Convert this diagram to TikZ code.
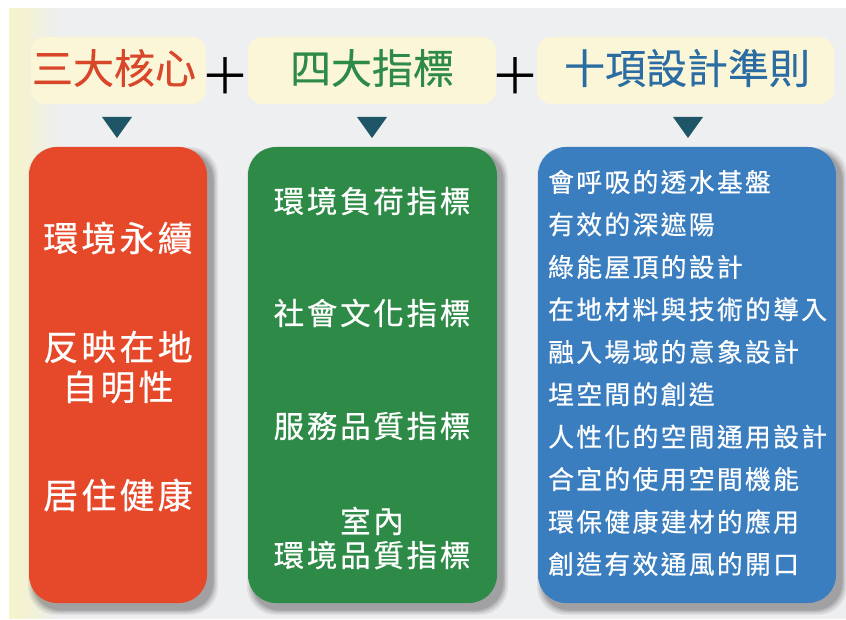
\documentclass[tikz,border=0pt]{standalone}
\usepackage{fontspec}
\usetikzlibrary{fadings}
\newfontfamily\cjk[FakeBold=0.4]{Noto Sans CJK TC}
\newfontfamily\cjkplain{Noto Sans CJK TC}
\newfontfamily\cjksp[LetterSpace=9,FakeBold=0.6]{Noto Sans CJK TC}
\definecolor{bgc}{HTML}{EEEFF1}
\definecolor{cOr}{HTML}{E5492A}
\definecolor{cGr}{HTML}{2E8B47}
\definecolor{cBl}{HTML}{3A7EC0}
\definecolor{tOr}{HTML}{D9472B}
\definecolor{tGr}{HTML}{2E8B47}
\definecolor{tBl}{HTML}{2B6CA3}
\definecolor{tri}{HTML}{1E5567}
\definecolor{cream}{HTML}{FBF6D8}
\tikzset{
  bigbox/.style={rounded corners=28pt, draw=none},
  headbox/.style={rounded corners=14pt, fill=cream},
  headtxt/.style={font=\cjk\fontsize{41}{41}\selectfont, inner sep=0pt},
  plustxt/.style={font=\cjkplain\fontsize{50}{50}\selectfont, inner sep=0pt, text=black},
  ortxt/.style={font=\cjksp\fontsize{35}{40}\selectfont, text=white, align=center, inner sep=0pt},
  grtxt/.style={font=\cjksp\fontsize{30.5}{34}\selectfont, text=white, align=center, inner sep=0pt},
  bltxt/.style={font=\cjksp\fontsize{25.8}{25}\selectfont, text=white, anchor=west, inner sep=0pt},
  tristyle/.style={fill=tri, draw=none},
}
\newcommand{\softshadow}[4]{%
  \foreach \k/\o in {6/0.06,4.5/0.08,3/0.10,1.5/0.12}{%
    \fill[black, opacity=\o, rounded corners=28pt] (#1-\k+5,#2-\k-6) rectangle (#3+\k+5,#4+\k-6);}%
}
\begin{document}
\begin{tikzpicture}[x=1pt,y=1pt]
\useasboundingbox (0,0) rectangle (846,619);
\fill[white] (0,0) rectangle (846,619);
\fill[bgc] (9,0) rectangle (846,611);
\fill[cream!80!yellow, path fading=east, opacity=0.6] (9,0) rectangle (60,611);
% header boxes
\fill[headbox] (31,515) rectangle (206,582);
\fill[headbox] (248,515) rectangle (496,582);
\fill[headbox] (537,515) rectangle (834,582);
\node[headtxt, text=tOr] (h1) at (114,551) {三大核心};
\node[headtxt, text=tGr] (h2) at (372,551) {四大指標};
\node[headtxt, text=tBl] (h3) at (687,551) {十項設計準則};
\node[plustxt] (p1) at (225,543) {＋};
\node[plustxt] (p2) at (515,543) {＋};
% triangles
\foreach \x/\n in {117/t1,372/t2,688/t3}{
  \fill[tristyle] (\x-15,502) -- (\x+15,502) -- (\x,481) -- cycle;
}
% shadows
\softshadow{29}{16}{207}{472}
\softshadow{248}{16}{497}{472}
\softshadow{538}{16}{836}{472}
% boxes
\fill[bigbox, cOr] (29,16) rectangle (207,472);
\fill[bigbox, cGr] (248,16) rectangle (497,472);
\fill[bigbox, cBl] (538,16) rectangle (836,472);
% orange texts
\node[ortxt] (o1) at (118,381) {環境永續};
\node[ortxt] (o2) at (118,252) {反映在地\\自明性};
\node[ortxt] (o3) at (118,124) {居住健康};
% green texts
\node[grtxt] (g1) at (372,418) {環境負荷指標};
\node[grtxt] (g2) at (372,306) {社會文化指標};
\node[grtxt] (g3) at (372,193) {服務品質指標};
\node[grtxt] (g4) at (372,81) {室內\\環境品質指標};
% blue texts
\node[bltxt] (b1) at (548,437) {會呼吸的透水基盤};
\node[bltxt] (b2) at (548,394.6) {有效的深遮陽};
\node[bltxt] (b3) at (548,352.1) {綠能屋頂的設計};
\node[bltxt] (b4) at (548,309.7) {在地材料與技術的導入};
\node[bltxt] (b5) at (548,267.2) {融入場域的意象設計};
\node[bltxt] (b6) at (548,224.8) {埕空間的創造};
\node[bltxt] (b7) at (548,182.3) {人性化的空間通用設計};
\node[bltxt] (b8) at (548,139.9) {合宜的使用空間機能};
\node[bltxt] (b9) at (548,97.4) {環保健康建材的應用};
\node[bltxt] (b10) at (548,55) {創造有效通風的開口};
\end{tikzpicture}
\end{document}
